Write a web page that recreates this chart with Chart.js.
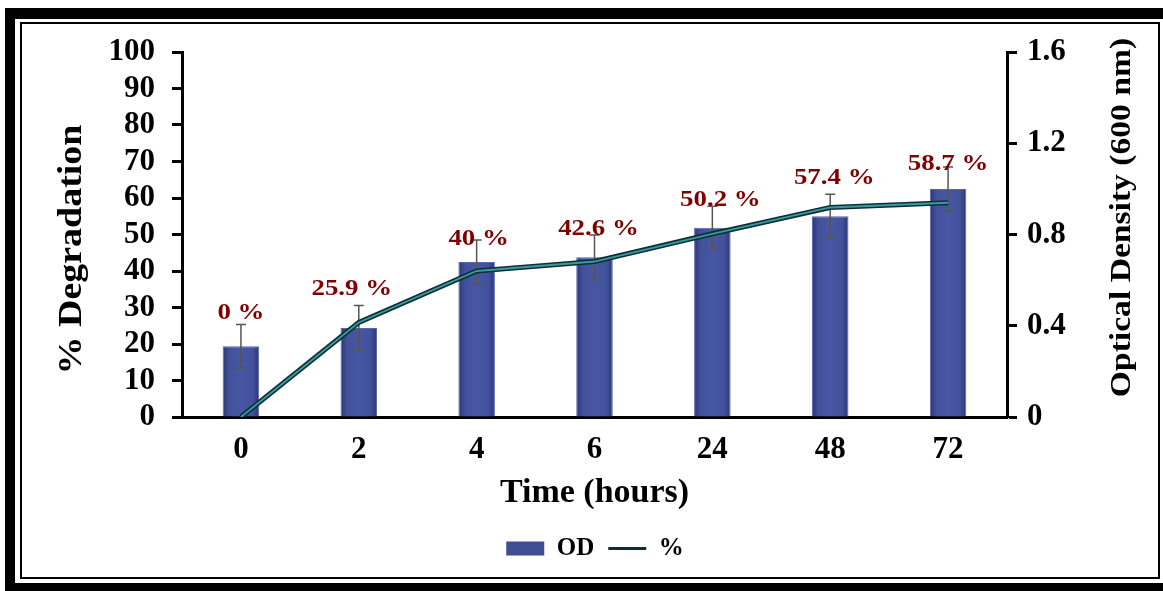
<!DOCTYPE html>
<html>
<head>
<meta charset="utf-8">
<title>OD and % Degradation over time</title>
<script src="https://cdn.jsdelivr.net/npm/chart.js@4/dist/chart.umd.min.js"></script>
<style>
  html, body { margin: 0; padding: 0; background: #fff; overflow: hidden; }
  body { width: 1163px; height: 591px; position: relative; }
  .frame-outer {
    position: absolute; left: 5px; top: 8px; width: 1400px; height: 585px;
    box-sizing: border-box; border-style: solid; border-color: #000;
    border-width: 11px 10px 10px 10px;
  }
  .frame-inner {
    position: absolute; left: 20px; top: 22px; width: 1140px; height: 557px;
    box-sizing: border-box; border: 2px solid #000; background: #fff;
  }
  #wrap { position: absolute; left: 0; top: 0; width: 1163px; height: 591px; }
</style>
</head>
<body>
<div class="frame-outer"></div>
<div class="frame-inner"></div>
<div id="wrap"><canvas id="chart" width="1163" height="591"></canvas></div>
<script>
// Sampling times (hours)
const hours = ['0', '2', '4', '6', '24', '48', '72'];
// Optical density at 600 nm and its standard deviation
const odValues = [0.31, 0.39, 0.68, 0.70, 0.83, 0.88, 1.00];
const odError = [0.096, 0.099, 0.096, 0.098, 0.094, 0.096, 0.096];
// Degradation (%)
const degradation = [0, 25.9, 40, 42.6, 50.2, 57.4, 58.7];
// Axis tick values
const pctTicks = [0, 10, 20, 30, 40, 50, 60, 70, 80, 90, 100];
const odTicks = [0, 0.4, 0.8, 1.2, 1.6];

// Small per-label nudges (px) so the percentage labels sit clear of the error bars
const labelShiftX = [0, -7, 2, 4, 8, 4, 0];
const labelLift = [12, 17, 1, 6, 6, 17, 3];

const SERIF = '"Liberation Serif", "Times New Roman", serif';
const BAR_PCT = 0.31;

function barFill(ctx) {
  const chart = ctx.chart;
  const xs = chart.scales && chart.scales.x;
  if (!chart.chartArea || !xs || xs.width <= 0) return '#44529c';
  const cx = xs.getPixelForValue(ctx.dataIndex);
  const half = (xs.width / hours.length) * BAR_PCT / 2;
  const g = chart.ctx.createLinearGradient(cx - half, 0, cx + half, 0);
  g.addColorStop(0, '#2c3675');
  g.addColorStop(0.18, '#43519c');
  g.addColorStop(0.5, '#4757a3');
  g.addColorStop(0.82, '#43519c');
  g.addColorStop(1, '#2c3675');
  return g;
}

// Error bars on the OD columns, drawn right after the bars so the line passes over them
const errorBars = {
  id: 'errorBars',
  afterDatasetDraw(chart, args) {
    if (args.index !== 0) return;
    const ctx = chart.ctx;
    const xs = chart.scales.x, ys = chart.scales.yOD;
    ctx.save();
    ctx.strokeStyle = '#555';
    ctx.lineWidth = 1.5;
    odValues.forEach((v, i) => {
      const x = xs.getPixelForValue(i);
      const yt = ys.getPixelForValue(v + odError[i]);
      const yb = ys.getPixelForValue(v - odError[i]);
      ctx.beginPath();
      ctx.moveTo(x, yt); ctx.lineTo(x, yb);
      ctx.moveTo(x - 5, yt); ctx.lineTo(x + 5, yt);
      ctx.moveTo(x - 5, yb); ctx.lineTo(x + 5, yb);
      ctx.stroke();
    });
    ctx.restore();
  }
};

function stretchedText(ctx, text, x, y, rot, sx) {
  ctx.save();
  ctx.translate(x, y);
  if (rot) ctx.rotate(rot);
  ctx.scale(sx, 1);
  ctx.fillText(text, 0, 0);
  ctx.restore();
}

// Percentage labels above the columns and the two vertical axis titles
const annotations = {
  id: 'annotations',
  afterDatasetsDraw(chart) {
    const ctx = chart.ctx;
    const xs = chart.scales.x, ys = chart.scales.yOD;
    const area = chart.chartArea;
    ctx.save();
    ctx.textAlign = 'center';
    ctx.textBaseline = 'middle';
    ctx.fillStyle = '#800000';
    ctx.font = 'bold 24px ' + SERIF;
    degradation.forEach((p, i) => {
      const x = xs.getPixelForValue(i) + labelShiftX[i];
      const y = ys.getPixelForValue(odValues[i] + odError[i]) - labelLift[i];
      stretchedText(ctx, p + ' %', x, y, 0, 1.12);
    });
    ctx.fillStyle = '#000';
    const midY = (area.top + area.bottom) / 2;
    ctx.font = 'bold 33px ' + SERIF;
    stretchedText(ctx, '% Degradation', 72, midY + 15, -Math.PI / 2, 1.15);
    ctx.font = 'bold 30px ' + SERIF;
    stretchedText(ctx, 'Optical Density (600 nm)', 1122, midY - 17, -Math.PI / 2, 1.12);
    ctx.restore();
  }
};

const tickFont = { family: SERIF, size: 31, weight: 'bold' };

new Chart(document.getElementById('chart'), {
  data: {
    labels: hours,
    datasets: [
      {
        type: 'bar',
        label: 'OD',
        data: odValues,
        yAxisID: 'yOD',
        backgroundColor: barFill,
        borderColor: '#5a66a8',
        borderWidth: 1,
        barPercentage: BAR_PCT,
        categoryPercentage: 1,
        order: 2
      },
      {
        type: 'line',
        label: '%',
        data: degradation,
        yAxisID: 'y',
        borderColor: '#0d2f34',
        backgroundColor: '#0d2f34',
        borderWidth: 5,
        pointRadius: 0,
        tension: 0,
        order: 1
      },
      {
        type: 'line',
        label: 'highlight',
        data: degradation,
        yAxisID: 'y',
        borderColor: '#3a9aa2',
        borderWidth: 1.8,
        pointRadius: 0,
        tension: 0,
        order: 0
      }
    ]
  },
  options: {
    responsive: false,
    animation: false,
    layout: { padding: { left: 40, right: 13, top: 52, bottom: 20 } },
    plugins: {
      tooltip: { enabled: false },
      legend: {
        position: 'bottom',
        labels: {
          filter: (item) => item.text !== 'highlight',
          sort: (a, b) => a.datasetIndex - b.datasetIndex,
          usePointStyle: true,
          generateLabels(chart) {
            const items = Chart.defaults.plugins.legend.labels.generateLabels(chart);
            items.forEach((it) => {
              if (it.datasetIndex === 0) {
                it.pointStyle = 'rect';
                it.fillStyle = '#3f4d95';
                it.strokeStyle = '#3f4d95';
                it.lineWidth = 0;
              } else {
                it.pointStyle = 'line';
                it.strokeStyle = '#0d2f34';
                it.lineWidth = 3;
              }
            });
            return items;
          },
          pointStyleWidth: 38,
          boxHeight: 14,
          padding: 14,
          color: '#000',
          font: { family: SERIF, size: 25, weight: 'bold' }
        }
      }
    },
    scales: {
      x: {
        grid: { display: false, drawTicks: false },
        border: { display: true, color: '#000', width: 3 },
        ticks: { color: '#000', font: tickFont, padding: 14 },
        title: {
          display: true, text: 'Time (hours)', color: '#000',
          font: { family: SERIF, size: 34, weight: 'bold' }, padding: { top: 3, bottom: 8 }
        },
        afterFit: (s) => { s.height = 105; }
      },
      y: {
        position: 'left',
        min: 0, max: 100,
        afterBuildTicks: (s) => { s.ticks = pctTicks.map((v) => ({ value: v })); },
        grid: { drawOnChartArea: false, drawTicks: true, tickLength: 10, tickWidth: 3, tickColor: '#000' },
        border: { display: true, color: '#000', width: 3 },
        ticks: { color: '#000', font: tickFont, padding: 17, autoSkip: false },
        afterFit: (s) => { s.width = 142; }
      },
      yOD: {
        position: 'right',
        min: 0, max: 1.6,
        afterBuildTicks: (s) => { s.ticks = odTicks.map((v) => ({ value: v })); },
        grid: { drawOnChartArea: false, drawTicks: true, tickLength: 10, tickWidth: 3, tickColor: '#000' },
        border: { display: true, color: '#000', width: 3 },
        ticks: { color: '#000', font: tickFont, padding: 10, autoSkip: false },
        afterFit: (s) => { s.width = 143; }
      }
    }
  },
  plugins: [errorBars, annotations]
});
</script>
</body>
</html>
